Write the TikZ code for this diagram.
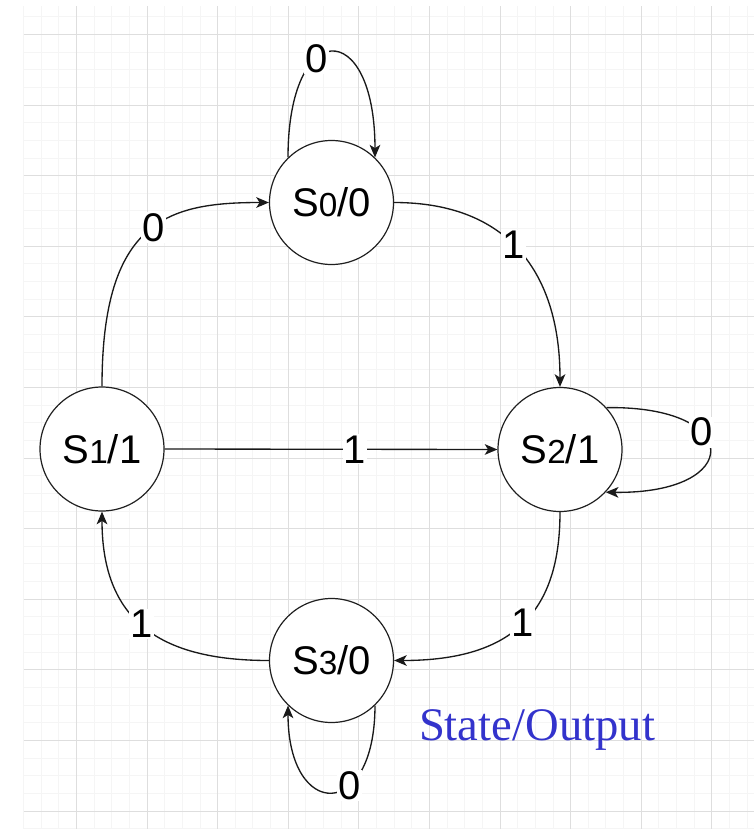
\documentclass[tikz,border=0pt]{standalone}
\usepackage{fontspec}
\setmainfont{Liberation Sans}
\newfontfamily\notefont{Liberation Serif}
\usetikzlibrary{arrows.meta}
\definecolor{gridminor}{HTML}{F5F5F5}
\definecolor{gridmajor}{HTML}{DEDEDE}
\definecolor{notecol}{HTML}{3333CC}
\newcommand\stsub[1]{{\fontsize{25}{25}\selectfont #1}}
\begin{document}
\begin{tikzpicture}[x=0.75pt,y=-0.75pt,
  state/.style={draw=black!88, line width=0.9pt, circle, minimum size=93pt, inner sep=0pt, fill=white, font=\fontsize{30}{30}\selectfont},
  edge/.style={black!90, line width=1pt, -{Stealth[length=9.5pt,width=8pt,inset=2.5pt]}},
  lab/.style={fill=white, text=black, inner sep=1pt, font=\fontsize{30}{30}\selectfont},
  minorline/.style={gridminor, line width=0.75pt},
  majorline/.style={gridmajor, line width=1pt},
  note/.style={text=notecol, font=\notefont\fontsize{35}{35}\selectfont, inner sep=0pt}]

\useasboundingbox (0,0) rectangle (754,829);
\fill[white] (0,0) rectangle (754,829);

% grid
\foreach \k in {-3,...,38} {
  \pgfmathsetmacro\xx{round(76+17.65*\k)+0.5}
  \draw[minorline] (\xx,6) -- (\xx,829);
}
\foreach \k in {-1,...,45} {
  \pgfmathsetmacro\yy{round(34+17.65*\k)+0.5}
  \draw[minorline] (23.5,\yy) -- (754,\yy);
}
\foreach \k in {0,4,...,36} {
  \pgfmathsetmacro\xx{round(76+17.65*\k)+0.5}
  \draw[majorline] (\xx,6) -- (\xx,829);
}
\foreach \k in {0,4,...,44} {
  \pgfmathsetmacro\yy{round(34+17.65*\k)+0.5}
  \draw[majorline] (23.5,\yy) -- (754,\yy);
}

% states
\node[state] (S0) at (331.5,202.5) {S\stsub{0}/0};
\node[state] (S1) at (102,449) {S\stsub{1}/1};
\node[state] (S2) at (560,449.5) {S\stsub{2}/1};
\node[state] (S3) at (331.5,660.5) {S\stsub{3}/0};

% transitions
\draw[edge] (S0.134) .. controls +(0,-140) and +(0,-141) .. node[lab,pos=0.38] {0} (S0.46);
\draw[edge] (S1.north) .. controls +(0,-167) and +(-100,0) .. node[lab,pos=0.53] {0} (S0.west);
\draw[edge] (S0.east) .. controls +(120,0) and +(0,-107) .. node[lab,pos=0.45] {1} (S2.north);
\draw[edge] (S1.east) -- node[lab,pos=0.572] {1} (S2.west);
\draw[edge] (S2.42) .. controls +(138,-2) and +(138,2) .. node[lab,pos=0.36] {0} (S2.-43);
\draw[edge] (S2.south) .. controls +(0,98) and +(121,0) .. node[lab,pos=0.5] {1} (S3.east);
\draw[edge] (S3.west) .. controls +(-109,0) and +(0,109) .. node[lab,pos=0.52] {1} (S1.south);
\draw[edge] (S3.-46) .. controls +(0,116) and +(0,115) .. node[lab,pos=0.36] {0} (S3.-134);

\node[note, anchor=base] (legend) at (537,740) {State/Output};
\end{tikzpicture}
\end{document}
